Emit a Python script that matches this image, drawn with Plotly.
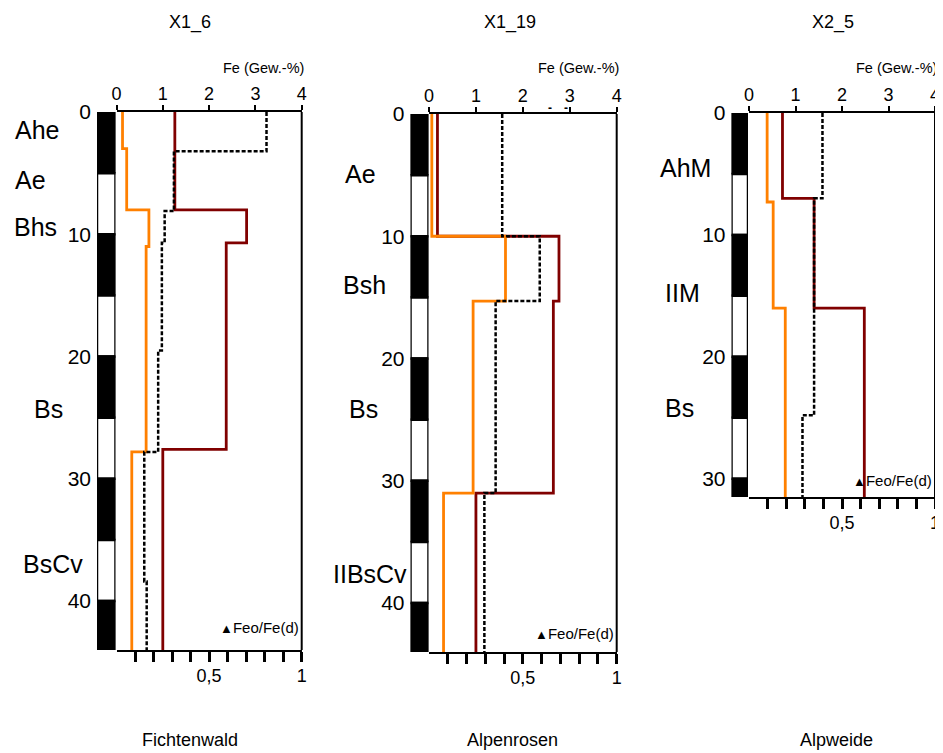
import plotly.graph_objects as go

# ---------------- data ----------------
titles = ["X1_6", "X1_19", "X2_5"]
sites = ["Fichtenwald", "Alpenrosen", "Alpweide"]
max_depth = [44, 44, 31.5]

# Fe(d) (dark red), Fe(o) (orange) in Gew.-%, step profiles: breaks (cm) and values
fed_breaks = [[0, 8, 10.7, 27.6, 44], [0, 10, 15.3, 31, 44], [0, 7, 16, 31.5]]
fed_values = [[1.26, 2.81, 2.37, 1.00], [0.18, 2.77, 2.65, 1.00], [0.72, 1.40, 2.48]]

feo_breaks = [[0, 3, 8, 11, 27.8, 44], [0, 10, 15.3, 31, 44], [0, 7.3, 16, 31.5]]
feo_values = [[0.13, 0.22, 0.70, 0.64, 0.33], [0.06, 1.63, 0.94, 0.31], [0.39, 0.52, 0.78]]

# Feo/Fe(d) ratio (black dashed, lower axis 0..1)
ratio_breaks = [[0, 3.2, 8.1, 10.7, 19.5, 27.8, 38.4, 44], [0, 10, 15.3, 31, 44], [0, 7, 24.8, 31.5]]
ratio_values = [[0.81, 0.31, 0.26, 0.245, 0.225, 0.15, 0.163], [0.39, 0.59, 0.355, 0.295], [0.395, 0.35, 0.2875]]

# soil horizons (label, depth of label centre in cm)
horizon_labels = [["Ahe", "Ae", "Bhs", "Bs", "BsCv"], ["Ae", "Bsh", "Bs", "IIBsCv"], ["AhM", "IIM", "Bs"]]
horizon_depths = [[1.5, 5.6, 9.4, 24.3, 37.0], [4.9, 14.0, 24.1, 37.6], [4.5, 14.8, 24.2]]

fe_ticks = [0, 1, 2, 3, 4]
ratio_ticks = [0.1, 0.2, 0.3, 0.4, 0.5, 0.6, 0.7, 0.8, 0.9, 1.0]
ratio_ticktext = ["", "", "", "", "0,5", "", "", "", "", "1"]
depth_ticks = [0, 10, 20, 30, 40]
block = 5  # cm per black/white block of the depth scale bar

# ---------------- layout geometry (page pixels) ----------------
PAGE_W, PAGE_H = 943, 753
OFF = 8  # default body margin of the html page
W, H = PAGE_W - OFF, PAGE_H - OFF
bar_px = [(97, 115.5), (410.5, 428.5), (731.5, 748)]
plot_px = [(116.5, 301.7), (429, 616.7), (749, 935)]
y_px = [(112, 650), (114, 652), (113, 497)]
horizon_x = [[13, 13, 12, 32, 21], [343, 341, 347, 331], [658, 663, 663]]
title_x = [190, 510, 833]
site_x = [190, 512, 836]

FONT = "Liberation Sans, Arial, sans-serif"
ORANGE = "#FF8000"
DARKRED = "#800000"


def px_x(p):
    return (p - OFF) / W


def px_y(p):
    return 1 - (p - OFF) / H


def sfx(n):
    return "" if n == 1 else str(n)


def steps(breaks, values):
    xs, ys = [], []
    for i, v in enumerate(values):
        xs += [v, v]
        ys += [breaks[i], breaks[i + 1]]
    return xs, ys


fig = go.Figure()
layout = dict(
    template="none",
    width=W, height=H, margin=dict(l=0, r=0, t=0, b=0, pad=0, autoexpand=False),
    paper_bgcolor="white", plot_bgcolor="rgba(0,0,0,0)",
    showlegend=False, font=dict(family=FONT, color="black"),
    annotations=[], shapes=[],
)

for i in range(3):
    xb, xt, xr = sfx(3 * i + 1), sfx(3 * i + 2), sfx(3 * i + 3)
    yi = sfx(i + 1)
    ydom = [px_y(y_px[i][1]), px_y(y_px[i][0])]
    dmax = max_depth[i]

    # depth scale bar (alternating black / white blocks)
    starts, lengths, colors = [], [], []
    d = 0
    k = 0
    while d < dmax:
        starts.append(d)
        lengths.append(min(block, dmax - d))
        colors.append("black" if k % 2 == 0 else "white")
        d += block
        k += 1
    fig.add_trace(go.Bar(
        x=[0.5] * len(starts), y=lengths, base=starts, width=1,
        marker=dict(color=colors, line=dict(color="black", width=2.5)),
        xaxis=f"x{xb}", yaxis=f"y{yi}", hoverinfo="skip"))

    # Fe(d)
    x, y = steps(fed_breaks[i], fed_values[i])
    fig.add_trace(go.Scatter(x=x, y=y, mode="lines", line=dict(color=DARKRED, width=2.8),
                             xaxis=f"x{xt}", yaxis=f"y{yi}"))
    # Fe(o)
    x, y = steps(feo_breaks[i], feo_values[i])
    fig.add_trace(go.Scatter(x=x, y=y, mode="lines", line=dict(color=ORANGE, width=2.8),
                             xaxis=f"x{xt}", yaxis=f"y{yi}"))
    # Feo/Fe(d)
    x, y = steps(ratio_breaks[i], ratio_values[i])
    fig.add_trace(go.Scatter(x=x, y=y, mode="lines", line=dict(color="black", width=2.5, dash="4px,2px"),
                             xaxis=f"x{xr}", yaxis=f"y{yi}"))

    layout[f"xaxis{xb}"] = dict(domain=[px_x(bar_px[i][0]), px_x(bar_px[i][1])], range=[0, 1],
                                visible=False, anchor=f"y{yi}", fixedrange=True, automargin=False)
    layout[f"xaxis{xt}"] = dict(domain=[px_x(plot_px[i][0]), px_x(plot_px[i][1])], range=[0, 4],
                                side="top", anchor=f"y{yi}", showline=True, linewidth=2, linecolor="black",
                                ticks="outside", ticklen=5, tickwidth=2, tickcolor="black",
                                ticklabelstandoff=-2,
                                tickvals=fe_ticks, tickfont=dict(size=18), showgrid=False, zeroline=False,
                                automargin=False)
    layout[f"xaxis{xr}"] = dict(domain=[px_x(plot_px[i][0]), px_x(plot_px[i][1])], range=[0, 1],
                                side="bottom", anchor=f"y{yi}", overlaying=f"x{xt}",
                                showline=True, linewidth=2, linecolor="black",
                                ticks="outside", ticklen=10, tickwidth=2.5, tickcolor="black",
                                ticklabelstandoff=-2,
                                tickvals=ratio_ticks, ticktext=ratio_ticktext, tickfont=dict(size=18),
                                showgrid=False, zeroline=False, automargin=False)
    layout[f"yaxis{yi}"] = dict(domain=ydom, range=[dmax, 0], anchor=f"x{xb}",
                                showline=False, ticks="", tickvals=depth_ticks, tickfont=dict(size=21),
                                ticklabelstandoff=5, showgrid=False, zeroline=False, automargin=False)

    # right frame line
    layout["shapes"].append(dict(type="line", xref=f"x{xt} domain", yref=f"y{yi} domain",
                                 x0=1, x1=1, y0=0, y1=1, line=dict(color="black", width=2)))

    # panel title and site name
    layout["annotations"].append(dict(text=titles[i], x=px_x(title_x[i]), y=px_y(23), xref="paper",
                                      yref="paper", xanchor="center", yanchor="middle",
                                      showarrow=False, font=dict(size=18)))
    layout["annotations"].append(dict(text=sites[i], x=px_x(site_x[i]), y=px_y(740), xref="paper",
                                      yref="paper", xanchor="center", yanchor="middle",
                                      showarrow=False, font=dict(size=18)))
    # axis title
    layout["annotations"].append(dict(text="Fe (Gew.-%)", x=px_x(plot_px[i][1] + 4), y=px_y(68),
                                      xref="paper", yref="paper", xanchor="right", yanchor="middle",
                                      showarrow=False, font=dict(size=14.5)))
    # legend note
    ly = [627, 633, 480][i]
    layout["annotations"].append(dict(text="<span style='font-size:13px'>▲</span>Feo/Fe(d)",
                                      x=px_x(plot_px[i][1] - 1), y=px_y(ly), xref="paper", yref="paper",
                                      xanchor="right", yanchor="middle", showarrow=False,
                                      font=dict(size=15)))
    # horizon labels
    for lab, dep, lx in zip(horizon_labels[i], horizon_depths[i], horizon_x[i]):
        layout["annotations"].append(dict(text=lab, x=px_x(lx), y=dep, xref="paper", yref=f"y{yi}",
                                          xanchor="left", yanchor="middle", showarrow=False,
                                          font=dict(size=25)))

# small stray marks near the top axis of the second panel
for mx in [550, 566]:
    layout["annotations"].append(dict(text="<b>-</b>", x=px_x(mx), y=px_y(108), xref="paper", yref="paper",
                                      xanchor="center", yanchor="middle", showarrow=False,
                                      font=dict(size=12)))

fig.update_layout(**layout)
fig.write_html("out.html")
